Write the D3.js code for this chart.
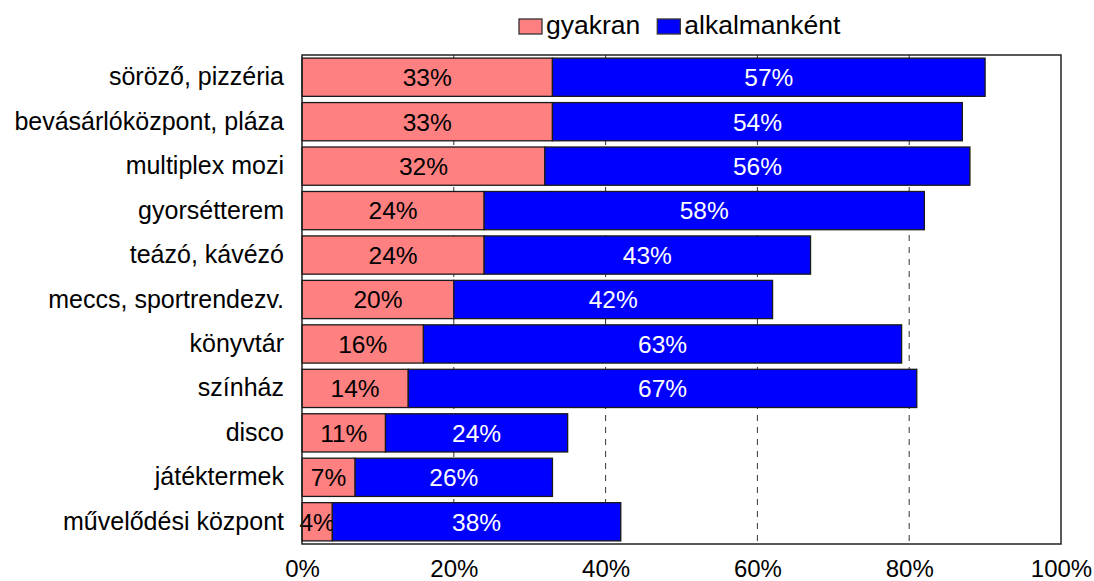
<!DOCTYPE html>
<html>
<head>
<meta charset="utf-8">
<script src="https://cdn.jsdelivr.net/npm/d3@7"></script>
<style>
  html, body { margin: 0; padding: 0; background: #fff; }
  svg { display: block; font-family: "Liberation Sans", Arial, sans-serif; }
</style>
</head>
<body>
<svg id="chart" width="1094" height="581"></svg>
<script>
const categories = ["söröző, pizzéria", "bevásárlóközpont, pláza", "multiplex mozi", "gyorsétterem",
  "teázó, kávézó", "meccs, sportrendezv.", "könyvtár", "színház", "disco", "játéktermek", "művelődési központ"];
const gyakran = [33, 33, 32, 24, 24, 20, 16, 14, 11, 7, 4];
const alkalmankent = [57, 54, 56, 58, 43, 42, 63, 67, 24, 26, 38];
const seriesNames = ["gyakran", "alkalmanként"];
const seriesColors = ["#FF8080", "#0000FF"];
const labelColors = ["#000000", "#FFFFFF"];
const xTicks = [0, 20, 40, 60, 80, 100];

(function () {
const svg = d3.select("#chart");
const pLeft = 302, pRight = 1061, pTop = 55, pBottom = 544;
const fs = 24;
const ff = "Liberation Sans, Arial, sans-serif";

const x = d3.scaleLinear().domain([0, 100]).range([pLeft, pRight]);
const y = d3.scaleBand().domain(categories).range([pTop, pBottom]).paddingInner(0.14).paddingOuter(0.07);

// gridlines
svg.append("g").selectAll("line").data(xTicks.filter(d => d > 0 && d < 100)).join("line")
  .attr("x1", d => x(d)).attr("x2", d => x(d))
  .attr("y1", pTop).attr("y2", pBottom)
  .attr("stroke", "#333").attr("stroke-width", 1).attr("stroke-dasharray", "6,6");

// stacked data
const rows = categories.map((c, i) => ({ cat: c, vals: [gyakran[i], alkalmankent[i]] }));
const stack = d3.stack().keys([0, 1]).value((d, k) => d.vals[k]);
const stacked = stack(rows);

stacked.forEach((layer, k) => {
  const g = svg.append("g");
  g.selectAll("rect").data(layer).join("rect")
    .attr("x", d => x(d[0]))
    .attr("y", d => y(d.data.cat))
    .attr("width", d => x(d[1]) - x(d[0]))
    .attr("height", y.bandwidth())
    .attr("fill", seriesColors[k])
    .attr("stroke", "#1a1a1a").attr("stroke-width", 1.3);
  g.selectAll("text").data(layer).join("text")
    .attr("x", d => (x(d[0]) + x(d[1])) / 2)
    .attr("y", d => y(d.data.cat) + y.bandwidth() / 2)
    .attr("dy", "0.36em")
    .attr("text-anchor", "middle")
    .attr("font-size", 24.5)
    .attr("font-family", ff)
    .attr("fill", labelColors[k])
    .text(d => (d[1] - d[0]) + "%");
});

// frame
svg.append("rect").attr("x", pLeft).attr("y", pTop).attr("width", pRight - pLeft).attr("height", pBottom - pTop)
  .attr("fill", "none").attr("stroke", "#222").attr("stroke-width", 1.5);

// x axis labels
const xAxis = d3.axisBottom(x).tickValues(xTicks).tickSize(0).tickFormat(d => d + "%");
const xg = svg.append("g").attr("transform", `translate(0,${pBottom})`).call(xAxis);
xg.select(".domain").remove();
xg.selectAll("text").attr("font-size", fs).attr("fill", "#000").attr("font-family", ff)
  .attr("dy", null).attr("y", 33);

// y axis labels
const yAxis = d3.axisLeft(y).tickSize(0).tickPadding(18);
const yg = svg.append("g").attr("transform", `translate(${pLeft},0)`).call(yAxis);
yg.select(".domain").remove();
yg.selectAll("text").attr("font-size", 25).attr("fill", "#000").attr("font-family", ff);

// legend
const leg = svg.append("g");
let lx = 519;
seriesNames.forEach((n, k) => {
  leg.append("rect").attr("x", lx).attr("y", 19).attr("width", 23).attr("height", 15)
    .attr("fill", seriesColors[k]).attr("stroke", "#333").attr("stroke-width", 1.3);
  const t = leg.append("text").attr("x", lx + 27).attr("y", 34).attr("font-size", 26.5).attr("fill", "#000")
    .attr("font-family", ff).text(n);
  lx = lx + 27 + t.node().getComputedTextLength() + 17;
});
})();
</script>
</body>
</html>
